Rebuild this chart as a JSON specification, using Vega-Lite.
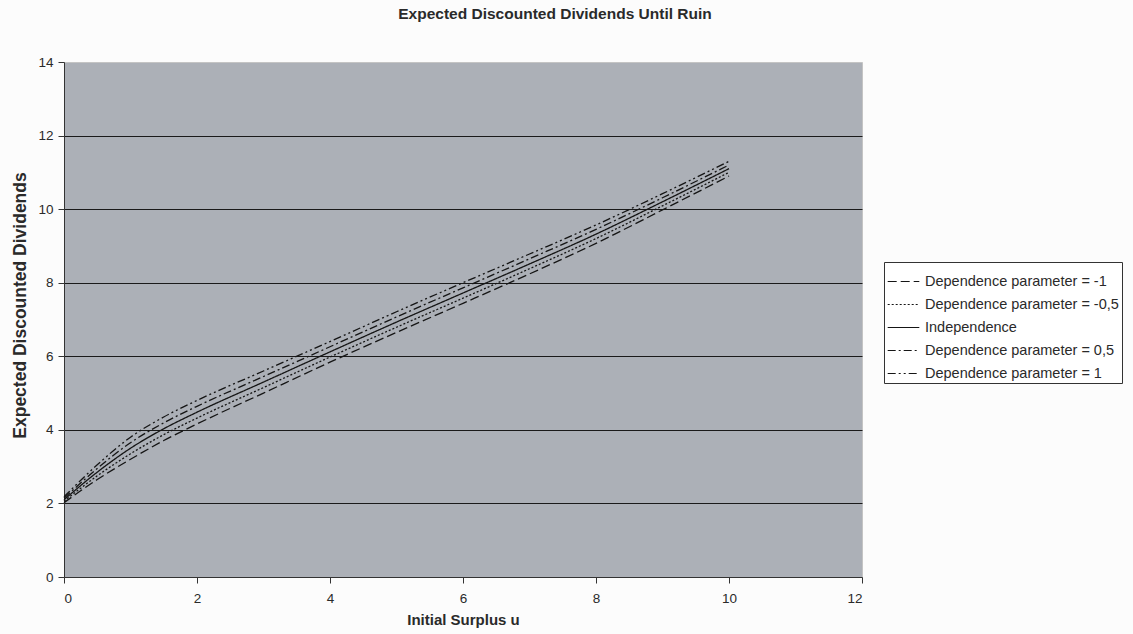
{
  "$schema": "https://vega.github.io/schema/vega-lite/v6.json",
  "width": 798,
  "height": 515,
  "autosize": {"type": "none"},
  "padding": {"left": 64, "top": 62, "right": 271, "bottom": 57},
  "background": "#fcfcfc",
  "title": {
    "text": "Expected Discounted Dividends Until Ruin",
    "anchor": "middle",
    "dx": 92,
    "offset": 33,
    "font": "Liberation Sans",
    "fontSize": 15.5,
    "fontWeight": "bold",
    "color": "#2a2a2a"
  },
  "config": {
    "view": {"fill": "#acb0b7", "stroke": "#c4c4c4", "strokeWidth": 1},
    "axis": {
      "labelFont": "Liberation Sans",
      "labelFontSize": 13.5,
      "labelColor": "#2a2a2a",
      "titleFont": "Liberation Sans",
      "titleFontWeight": "bold",
      "titleColor": "#2a2a2a",
      "domainColor": "#333333",
      "tickColor": "#333333",
      "tickSize": 6
    }
  },
  "data": {
    "values": [
      {"u": 0, "m1": 2.02, "m05": 2.06, "ind": 2.10, "p05": 2.14, "p1": 2.18},
      {"u": 0.5, "m1": 2.65, "m05": 2.75, "ind": 2.85, "p05": 2.95, "p1": 3.05},
      {"u": 1, "m1": 3.20, "m05": 3.35, "ind": 3.50, "p05": 3.65, "p1": 3.80},
      {"u": 1.5, "m1": 3.71, "m05": 3.87, "ind": 4.03, "p05": 4.19, "p1": 4.35},
      {"u": 2, "m1": 4.16, "m05": 4.32, "ind": 4.48, "p05": 4.64, "p1": 4.80},
      {"u": 3, "m1": 5.00, "m05": 5.15, "ind": 5.30, "p05": 5.45, "p1": 5.60},
      {"u": 4, "m1": 5.84, "m05": 5.98, "ind": 6.12, "p05": 6.26, "p1": 6.40},
      {"u": 5, "m1": 6.65, "m05": 6.79, "ind": 6.93, "p05": 7.07, "p1": 7.21},
      {"u": 6, "m1": 7.44, "m05": 7.58, "ind": 7.72, "p05": 7.86, "p1": 8.00},
      {"u": 7, "m1": 8.24, "m05": 8.38, "ind": 8.51, "p05": 8.65, "p1": 8.78},
      {"u": 8, "m1": 9.07, "m05": 9.20, "ind": 9.32, "p05": 9.45, "p1": 9.57},
      {"u": 9, "m1": 9.98, "m05": 10.09, "ind": 10.20, "p05": 10.31, "p1": 10.42},
      {"u": 10, "m1": 10.90, "m05": 11.00, "ind": 11.10, "p05": 11.20, "p1": 11.30}
    ]
  },
  "transform": [
    {"fold": ["m1", "m05", "ind", "p05", "p1"], "as": ["series", "value"]}
  ],
  "mark": {"type": "line", "color": "#151515", "strokeWidth": 1.3, "interpolate": "monotone"},
  "encoding": {
    "x": {
      "field": "u",
      "type": "quantitative",
      "scale": {"domain": [0, 12], "nice": false},
      "axis": {
        "values": [0, 2, 4, 6, 8, 10, 12],
        "grid": false,
        "labelPadding": 8,
        "title": "Initial Surplus u",
        "titleFontSize": 15,
        "titlePadding": 8
      }
    },
    "y": {
      "field": "value",
      "type": "quantitative",
      "scale": {"domain": [0, 14], "nice": false},
      "axis": {
        "values": [0, 2, 4, 6, 8, 10, 12, 14],
        "grid": true,
        "gridColor": {
          "condition": {"test": "datum.value == 0 || datum.value == 14", "value": "transparent"},
          "value": "#1a1a1a"
        },
        "gridOpacity": 1,
        "gridWidth": 1.2,
        "labelPadding": 5,
        "title": "Expected Discounted Dividends",
        "titleFontSize": 17.5,
        "titleY": 243,
        "titlePadding": 8
      }
    },
    "strokeDash": {
      "field": "series",
      "type": "nominal",
      "scale": {
        "domain": ["m1", "m05", "ind", "p05", "p1"],
        "range": [[9, 4], [2, 2], [1, 0], [8, 3, 2, 3], [8, 3, 2, 3, 2, 3]]
      },
      "legend": {
        "orient": "none",
        "legendX": 820,
        "legendY": 200,
        "title": null,
        "strokeColor": "#333333",
        "fillColor": "#ffffff",
        "padding": 3,
        "symbolType": "stroke",
        "symbolSize": 1000,
        "symbolStrokeWidth": 1.2,
        "symbolStrokeColor": "#151515",
        "labelFont": "Liberation Sans",
        "labelFontSize": 14.5,
        "labelColor": "#2a2a2a",
        "labelLimit": 400,
        "labelOffset": 5,
        "rowPadding": -10,
        "labelExpr": "datum.label == 'm1' ? 'Dependence parameter = -1' : datum.label == 'm05' ? 'Dependence parameter = -0,5' : datum.label == 'ind' ? 'Independence' : datum.label == 'p05' ? 'Dependence parameter = 0,5' : 'Dependence parameter = 1'"
      }
    }
  }
}
